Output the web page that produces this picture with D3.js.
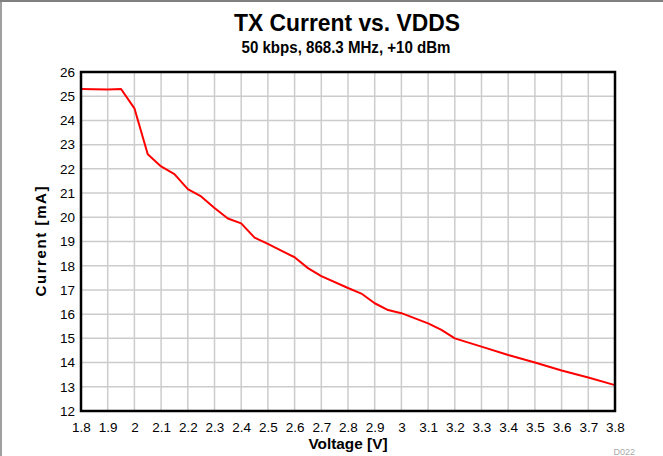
<!DOCTYPE html>
<html>
<head>
<meta charset="utf-8">
<script src="https://cdn.jsdelivr.net/npm/d3@7"></script>
<style>
  body { margin: 0; background: #fff; }
  svg { display: block; font-family: "Liberation Sans", Arial, sans-serif; }
</style>
</head>
<body>
<div id="chart"></div>
<script>
// values
const voltage = [1.8, 1.9, 1.95, 2.0, 2.05, 2.1, 2.15, 2.2, 2.25, 2.3, 2.35, 2.4, 2.45, 2.5, 2.55, 2.6, 2.65, 2.7,
                 2.8, 2.85, 2.9, 2.95, 3.0, 3.1, 3.15, 3.2, 3.3, 3.4, 3.5, 3.6, 3.7, 3.8];
const current = [25.3, 25.28, 25.3, 24.5, 22.6, 22.1, 21.78, 21.16, 20.86, 20.38, 19.95, 19.75, 19.16, 18.9, 18.62, 18.35, 17.9, 17.57,
                 17.08, 16.85, 16.45, 16.17, 16.04, 15.62, 15.35, 15.0, 14.66, 14.31, 14.0, 13.67, 13.38, 13.07];
const xTicks = [1.8, 1.9, 2, 2.1, 2.2, 2.3, 2.4, 2.5, 2.6, 2.7, 2.8, 2.9, 3, 3.1, 3.2, 3.3, 3.4, 3.5, 3.6, 3.7, 3.8];
const yTicks = [12, 13, 14, 15, 16, 17, 18, 19, 20, 21, 22, 23, 24, 25, 26];

const width = 663, height = 456;
const margin = { top: 72, right: 48, bottom: 45, left: 81 };

const svg = d3.select("#chart").append("svg")
    .attr("width", width)
    .attr("height", height);

// outer frame (top and left edges only show in the picture)
svg.append("line").attr("x1", 0).attr("x2", width).attr("y1", 1).attr("y2", 1)
    .attr("stroke", "#808080").attr("stroke-width", 2);
svg.append("line").attr("x1", 1).attr("x2", 1).attr("y1", 0).attr("y2", height)
    .attr("stroke", "#808080").attr("stroke-width", 1.5);

const x = d3.scaleLinear().domain([1.8, 3.8]).range([margin.left, width - margin.right]);
const y = d3.scaleLinear().domain([12, 26]).range([height - margin.bottom, margin.top]);

// grid
svg.append("g")
    .selectAll("line")
    .data(xTicks)
    .join("line")
    .attr("x1", d => x(d)).attr("x2", d => x(d))
    .attr("y1", y(12)).attr("y2", y(26))
    .attr("stroke", "#cccccc").attr("stroke-width", 1.5);

svg.append("g")
    .selectAll("line")
    .data(yTicks)
    .join("line")
    .attr("x1", x(1.8)).attr("x2", x(3.8))
    .attr("y1", d => y(d)).attr("y2", d => y(d))
    .attr("stroke", "#cccccc").attr("stroke-width", 1.5);

// axes, labels only
const xAxis = svg.append("g")
    .attr("transform", `translate(0,${y(12)})`)
    .call(d3.axisBottom(x).tickValues(xTicks).tickSize(0).tickPadding(11).tickFormat(d3.format("")));
const yAxis = svg.append("g")
    .attr("transform", `translate(${x(1.8)},0)`)
    .call(d3.axisLeft(y).tickValues(yTicks).tickSize(0).tickPadding(6).tickFormat(d3.format("")));
[xAxis, yAxis].forEach(a => {
    a.select(".domain").remove();
    a.selectAll("text").attr("font-size", 13.5).attr("fill", "#000")
        .attr("font-family", "'Liberation Sans', Arial, sans-serif");
});

// data line
const line = d3.line()
    .x((d, i) => x(voltage[i]))
    .y(d => y(d));

svg.append("path")
    .datum(current)
    .attr("d", line)
    .attr("fill", "none")
    .attr("stroke", "#ff0000")
    .attr("stroke-width", 2)
    .attr("stroke-linejoin", "round");

// plot frame
svg.append("rect")
    .attr("x", x(1.8)).attr("y", y(26))
    .attr("width", x(3.8) - x(1.8)).attr("height", y(12) - y(26))
    .attr("fill", "none").attr("stroke", "#000").attr("stroke-width", 2.5);

// titles
svg.append("text")
    .attr("x", 347).attr("y", 30.5)
    .attr("text-anchor", "middle")
    .attr("font-size", 24).attr("font-weight", "bold")
    .attr("textLength", 226).attr("lengthAdjust", "spacingAndGlyphs")
    .text("TX Current vs. VDDS");

svg.append("text")
    .attr("x", 346).attr("y", 53)
    .attr("text-anchor", "middle")
    .attr("font-size", 16).attr("font-weight", "bold")
    .attr("textLength", 209).attr("lengthAdjust", "spacingAndGlyphs")
    .text("50 kbps, 868.3 MHz, +10 dBm");

svg.append("text")
    .attr("x", 348).attr("y", 449)
    .attr("text-anchor", "middle")
    .attr("font-size", 15).attr("font-weight", "bold")
    .attr("textLength", 79).attr("lengthAdjust", "spacingAndGlyphs")
    .text("Voltage [V]");

svg.append("text")
    .attr("transform", `translate(46,${(y(12) + y(26)) / 2}) rotate(-90)`)
    .attr("text-anchor", "middle")
    .attr("font-size", 15).attr("font-weight", "bold")
    .attr("textLength", 110).attr("lengthAdjust", "spacing")
    .text("Current [mA]");

svg.append("text")
    .attr("x", 635).attr("y", 455)
    .attr("text-anchor", "end")
    .attr("font-size", 9).attr("fill", "#aaaaaa")
    .text("D022");
</script>
</body>
</html>
